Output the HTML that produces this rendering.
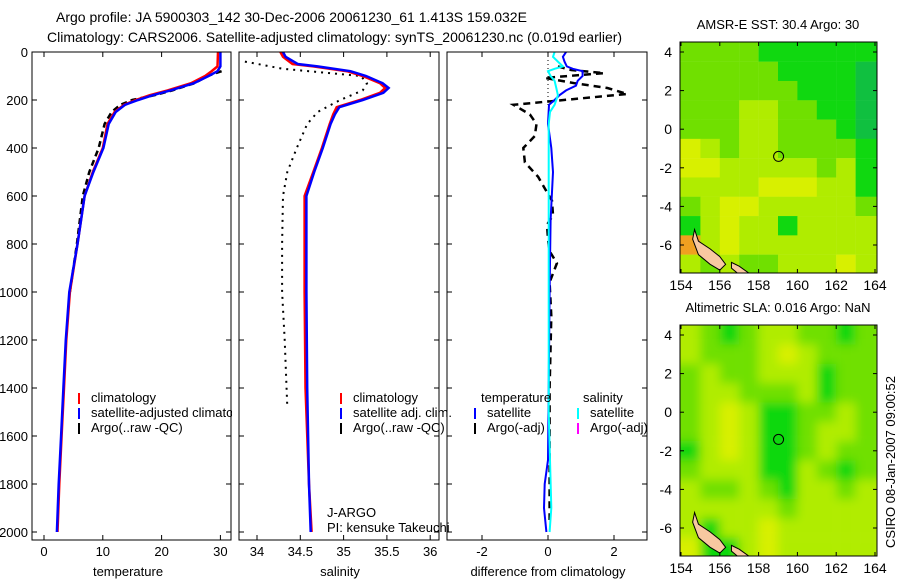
<!DOCTYPE html>
<html><head><meta charset="utf-8"><style>
html,body{margin:0;padding:0;background:#fff;width:900px;height:580px;overflow:hidden}
svg text{font-family:"Liberation Sans",sans-serif;font-size:13px;fill:#000}
</style></head><body>
<svg id="fig" width="900" height="580" viewBox="0 0 900 580" xmlns="http://www.w3.org/2000/svg">
<rect width="900" height="580" fill="#fff"/>
<text x="56" y="22" style="font-size:14px">Argo profile: JA 5900303_142 30-Dec-2006 20061230_61 1.413S 159.032E</text>
<text x="47" y="42" style="font-size:14px">Climatology: CARS2006. Satellite-adjusted climatology: synTS_20061230.nc (0.019d earlier)</text>
<text transform="translate(895,462) rotate(-90)" text-anchor="middle">CSIRO 08-Jan-2007 09:00:52</text>
<g id="g"></g>
</svg>
<script>
// ---------- data ----------
const tDepth=[0,60,80,100,130,160,180,200,220,250,300,400,500,600,800,1000,1200,1400,1600,1800,2000];
const tClim=[29.6,29.5,28.5,27.4,25,21,18,15.6,13.6,12,10.8,10,8.3,6.9,5.7,4.4,3.8,3.4,3.0,2.6,2.3];
const tSat=[30,30,29.5,28,25.5,21.5,18.5,16,13.8,12.2,11,10.1,8.4,6.9,5.7,4.3,3.7,3.3,2.9,2.5,2.2];
const tArgoDepth=[80,90,100,130,160,180,200,220,250,300,400,500,600,800,1000];
const tArgo=[30.2,29,27.8,25.6,21.8,18.8,15,13,11.5,10.3,9.3,7.7,6.6,5.6,4.4];
const sDepth=[0,20,50,60,80,100,130,150,170,200,230,260,300,400,500,600,800,1000,1400,1800,2000];
const sClim=[34.27,34.3,34.41,34.65,35.04,35.22,35.42,35.48,35.42,35.19,34.92,34.88,34.84,34.75,34.65,34.55,34.55,34.55,34.56,34.6,34.63];
const sSat=[34.3,34.33,34.47,34.7,35.08,35.26,35.45,35.52,35.46,35.22,34.95,34.9,34.85,34.76,34.66,34.57,34.57,34.57,34.58,34.6,34.62];
const sArgoDepth=[40,70,100,130,160,200,250,300,400,500,600,800,1000,1200,1480];
const sArgo=[33.86,34.3,35.2,35.27,35.22,34.96,34.7,34.58,34.46,34.35,34.3,34.29,34.29,34.32,34.35];
const dDepth=[0,20,40,60,70,80,100,120,140,160,180,200,220,300,400,500,700,1000,1400,1700,1800,1900,2000];
const dTsat=[0.55,0.45,0.5,0.57,0.75,1.05,1.05,0.9,0.85,0.55,0.35,0.2,0.03,0,0.1,0.15,0.08,0.05,0.02,0,-0.1,-0.12,-0.05];
const dSdepth=[0,20,40,60,70,80,100,120,150,180,220,250,300,600,1000,1500,1900,2000];
const dSsat=[0.2,0.15,0.3,0.45,0.2,0,0.08,0.2,0.25,0.3,0.2,0.06,0.02,0.02,0.02,0.02,0.1,0.05];
const dAdepth=[60,75,88,108,130,150,175,220,260,300,350,400,460,520,580,620,680,720,780,830,880,960,1100,1400,1700,1950];
const dArgo=[0.3,0.7,1.7,-0.1,0.8,1.8,2.4,-1.05,-0.55,-0.35,-0.4,-0.75,-0.7,-0.3,-0.05,0.12,0.15,-0.03,0.0,0.05,0.27,0.05,0.1,0.05,0.05,0.05];
const depthTicks=[0,200,400,600,800,1000,1200,1400,1600,1800,2000];
const tTicks=[0,10,20,30];
const sTicks=[34,34.5,35,35.5,36];
const sTickLabels=["34","34.5","35","35.5","36"];
const dTicks=[-2,0,2];
const latTicks=[4,2,0,-2,-4,-6];
const lonTicks=[154,156,158,160,162,164];
const sstGrid=[
[2,2,2,2,1,1,1,1,1,1],[2,2,2,2,2,1,1,1,1,0],[2,2,2,2,2,2,1,1,1,0],[2,2,2,3,3,2,2,1,1,0],
[2,2,2,3,3,2,2,2,1,0],[4,3,2,3,3,2,2,2,2,1],[4,4,3,3,3,3,3,2,3,1],[3,3,3,3,4,4,4,3,3,1],
[2,3,4,4,3,3,3,3,3,2],[1,3,4,3,3,1,3,3,3,3],[5,3,4,3,3,3,3,3,3,3],[3,2,3,2,2,3,3,3,4,3]];
const slaGrid=[
[3,2,1,2,3,3,2,2,1,2],[3,2,2,2,3,4,3,2,2,2],[2,3,2,2,3,3,3,1,2,2],[2,3,3,2,2,2,3,1,2,2],
[2,3,4,3,1,1,2,2,3,2],[2,3,4,3,1,1,2,3,3,2],[1,3,4,3,1,1,2,3,2,2],[2,3,3,3,1,1,3,2,1,2],
[3,2,2,3,2,1,3,3,2,3],[3,3,3,3,3,2,3,3,3,3],[3,1,3,3,4,3,3,3,3,3],[4,1,1,3,4,3,3,3,3,3]];
const palette=["#10c040","#10d810","#70e000","#b0ec00","#d8f000","#f0a020"];
const argoLon=159.03, argoLat=-1.41;
// ---------- helpers ----------
const NS="http://www.w3.org/2000/svg";
const G=document.getElementById('g');
function mk(tag,attrs,parent){const e=document.createElementNS(NS,tag);for(const k in attrs)e.setAttribute(k,attrs[k]);(parent||G).appendChild(e);return e;}
function txt(s,x,y,anchor,parent){const e=mk('text',{x:x,y:y,'text-anchor':anchor||'start'},parent);e.textContent=s;return e;}
const Y=d=>52+d*0.24;
const panels=[
 {x0:32,x1:231,name:'temperature-panel',fx:v=>44+v*5.88,ticks:tTicks,labels:tTicks.map(String),xl:'temperature',xlx:128},
 {x0:239,x1:439,name:'salinity-panel',fx:v=>257+(v-34)*86.6,ticks:sTicks,labels:sTickLabels,xl:'salinity',xlx:340},
 {x0:447,x1:647,name:'difference-panel',fx:v=>548+v*33,ticks:dTicks,labels:dTicks.map(String),xl:'difference from climatology',xlx:548}
];
function line(fx,vals,depths,color,w,dash,name){
  const p=mk('polyline',{points:vals.map((v,i)=>fx(v).toFixed(1)+','+Y(depths[i]).toFixed(1)).join(' '),fill:'none',stroke:color,'stroke-width':w});
  if(dash)p.setAttribute('stroke-dasharray',dash);
  
  
}
panels.forEach((P,pi)=>{
  const bg=mk('rect',{x:P.x0,y:52,width:P.x1-P.x0,height:488,fill:'#fff'});
  
  
  P.ticks.forEach((t,i)=>{const x=P.fx(t);
    mk('line',{x1:x,y1:52,x2:x,y2:57,stroke:'#000'});mk('line',{x1:x,y1:540,x2:x,y2:535,stroke:'#000'});
    const l=txt(P.labels[i],x,556,'middle');
    
    });
  depthTicks.forEach(d=>{const y=Y(d);
    mk('line',{x1:P.x0,y1:y,x2:P.x0+5,y2:y,stroke:'#000'});mk('line',{x1:P.x1,y1:y,x2:P.x1-5,y2:y,stroke:'#000'});
    if(pi===0){const l=txt(String(d),28,y+5,'end');
      
      }});
  const xl=txt(P.xl,P.xlx,576,'middle');
  
  
});
const [P1,P2,P3]=panels;
line(P1.fx,tArgo,tArgoDepth,'#000',2.5,'6,4','temp-argo-line');
line(P1.fx,tClim,tDepth,'#f00',2.5,null,'temp-climatology-line');
line(P1.fx,tSat,tDepth,'#00f',2.5,null,'temp-satellite-line');
const z=mk('line',{x1:P3.fx(0),y1:52,x2:P3.fx(0),y2:105,stroke:'#000','stroke-dasharray':'1,3'});


line(P3.fx,dArgo,dAdepth,'#000',2.5,'7,5','diff-argo-temp-line');
line(P3.fx,dTsat,dDepth,'#00f',2,null,'diff-temp-satellite-line');
line(P3.fx,dSsat,dSdepth,'#0ff',2,null,'diff-sal-satellite-line');
function leg(x,y,color,label){mk('rect',{x:x,y:y-9,width:2,height:11,fill:color});const t=txt(label,x+13,y);
  
  }
leg(78,402,'#f00','climatology');leg(78,417,'#00f','satellite-adjusted climatology');leg(78,432,'#000','Argo(..raw -QC)');
const clip=mk('rect',{x:232,y:52,width:206,height:488,fill:'#fff'});


line(P2.fx,sArgo,sArgoDepth,'#000',2,'2,5','sal-argo-line');
line(P2.fx,sClim,sDepth,'#f00',2.5,null,'sal-climatology-line');
line(P2.fx,sSat,sDepth,'#00f',2.5,null,'sal-satellite-line');
sTicks.forEach(t=>{const x=P2.fx(t);mk('line',{x1:x,y1:52,x2:x,y2:57,stroke:'#000'});mk('line',{x1:x,y1:540,x2:x,y2:535,stroke:'#000'});});
depthTicks.forEach(d=>{const y=Y(d);mk('line',{x1:239,y1:y,x2:244,y2:y,stroke:'#000'});mk('line',{x1:439,y1:y,x2:434,y2:y,stroke:'#000'});});
leg(340,402,'#f00','climatology');leg(340,417,'#00f','satellite adj. clim.');leg(340,432,'#000','Argo(..raw -QC)');
txt('temperature',481,402);txt('salinity',583,402);
leg(474,417,'#00f','satellite');leg(474,432,'#000','Argo(-adj)');
leg(577,417,'#0ff','satellite');leg(577,432,'#f0f','Argo(-adj)');
txt('J-ARGO',327,517);txt('PI: kensuke Takeuchi',327,532);
panels.forEach(P=>{const f=mk('rect',{x:P.x0,y:52,width:P.x1-P.x0,height:488,fill:'none',stroke:'#000','stroke-width':1});
  
  });
// ---------- maps ----------
function map(top,grid,title,name,blur){
  const L=680,R=877,B=top+231;
  const fx=lon=>681+(lon-154)*19.4, fy=lat=>top+10+(4-lat)*19.3;
  const grp=mk('g',{});
  
  
  const cp=mk('clipPath',{id:name+'-clip'},grp);mk('rect',{x:L,y:top,width:R-L,height:B-top},cp);
  const cells=mk('g',{'clip-path':'url(#'+name+'-clip)'},grp);
  const inner=mk('g',blur?{filter:'url(#blur)'}:{},cells);
  grid.forEach((row,r)=>row.forEach((v,c)=>{
    const cell=mk('rect',{x:fx(154+c)-(c===0?10:0),y:fy(4.5-r)-(r===0?10:0),width:19.6+(c===0||c===9?10:0),height:19.5+(r===0||r===11?10:0),fill:palette[v]},inner);
    
    }));
  const isl=[[154.7,-5.2],[154.9,-5.8],[155.5,-6.2],[156.0,-6.6],[156.3,-7.0],[156.0,-7.3],[155.5,-7.0],[154.9,-6.5],[154.6,-5.7]];
  const isl2=[[156.6,-6.9],[157.0,-7.1],[157.7,-7.6],[157.2,-7.7],[156.6,-7.2]];
  [isl,isl2].forEach(s=>{const p=mk('polygon',{points:s.map(q=>fx(q[0])+','+fy(q[1])).join(' '),fill:'#f8c8a0',stroke:'#000','stroke-width':1},cells);
    
    });
  const c=mk('circle',{cx:fx(argoLon),cy:fy(argoLat),r:5,fill:'none',stroke:'#000'},grp);
  
  
  mk('rect',{x:L,y:top,width:R-L,height:B-top,fill:'none',stroke:'#000'},grp);
  latTicks.forEach(l=>{const y=fy(l);mk('line',{x1:L,y1:y,x2:L+4,y2:y,stroke:'#000'},grp);mk('line',{x1:R,y1:y,x2:R-4,y2:y,stroke:'#000'},grp);
    const t=txt(String(l),672,y+5,'end',grp);t.style.fontSize='14px';
    
    });
  lonTicks.forEach(l=>{const x=fx(l);mk('line',{x1:x,y1:top,x2:x,y2:top+4,stroke:'#000'},grp);mk('line',{x1:x,y1:B,x2:x,y2:B-4,stroke:'#000'},grp);
    const t=txt(String(l),x,B+17,'middle',grp);t.style.fontSize='14px';
    
    });
  const t=txt(title,778,top-13,'middle',grp);
  
  
}
const defs=mk('defs',{});const flt=mk('filter',{id:'blur'},defs);mk('feGaussianBlur',{stdDeviation:'5'},flt);
map(42,sstGrid,'AMSR-E SST: 30.4 Argo: 30','sst-map',false);
map(325,slaGrid,'Altimetric SLA: 0.016 Argo: NaN','sla-map',true);
</script>
</body></html>
